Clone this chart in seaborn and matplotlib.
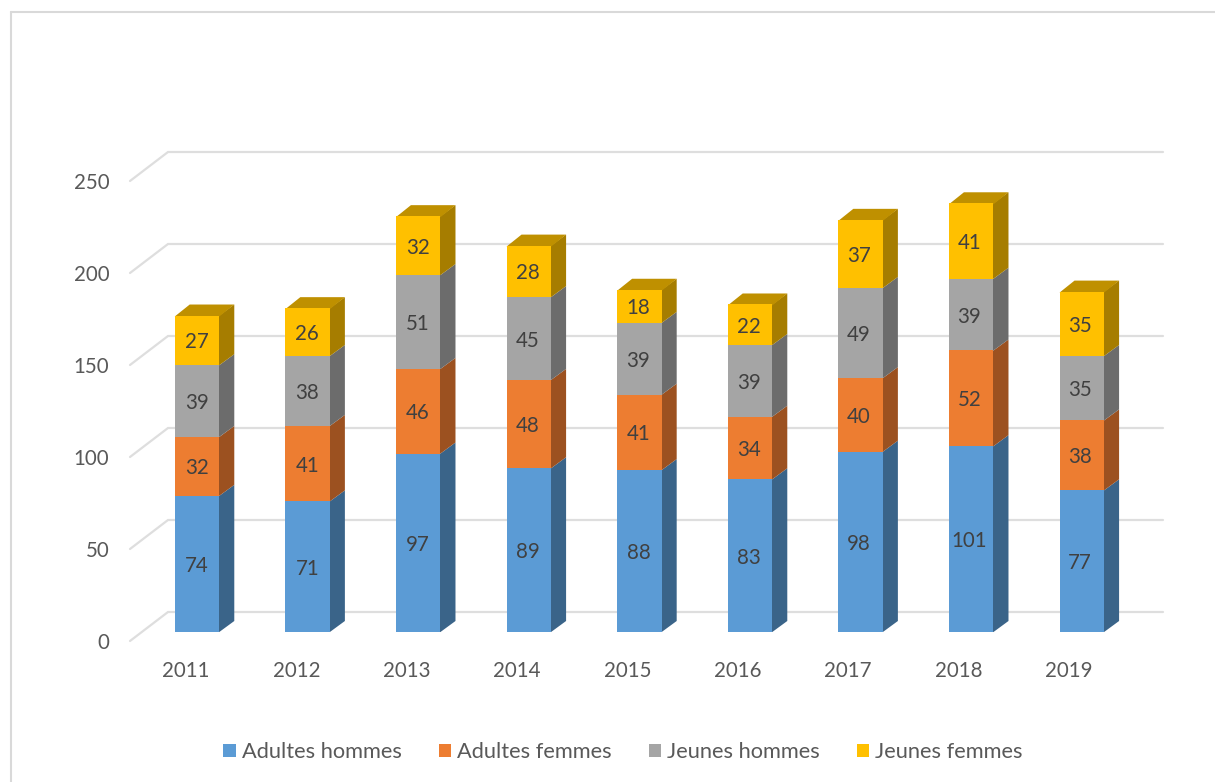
"""Effectifs par annee, barres empilees avec relief facon tableur."""

import matplotlib.pyplot as plt
import pandas as pd
import seaborn as sns
from matplotlib.lines import Line2D
from matplotlib.transforms import ScaledTranslation

YEARS = ["2011", "2012", "2013", "2014", "2015", "2016", "2017", "2018", "2019"]
ADULTES_HOMMES = [74, 71, 97, 89, 88, 83, 98, 101, 77]
ADULTES_FEMMES = [32, 41, 46, 48, 41, 34, 40, 52, 38]
JEUNES_HOMMES = [39, 38, 51, 45, 39, 39, 49, 39, 35]
JEUNES_FEMMES = [27, 26, 32, 28, 18, 22, 37, 41, 35]
Y_TICKS = [0, 50, 100, 150, 200, 250]

SERIES = ["Adultes hommes", "Adultes femmes", "Jeunes hommes", "Jeunes femmes"]
COLORS = ["#5B9BD5", "#ED7D31", "#A5A5A5", "#FFC000"]
SIDE_COLORS = ["#3A6489", "#9C5120", "#6C6C6C", "#A67D00"]
TOP_COLOR = "#BF9000"
GRID = "#DEDEDE"

W, H = 1215, 782
PX_X = 110.6  # pixels per category
PX_Y = 1.84  # pixels per unit
LABEL_DRIFT = 0.25  # text labels run a bit tighter than the bars, px per category

sns.set_theme(style="white")
plt.rcParams["font.family"] = ["Lato", "DejaVu Sans"]

df = pd.DataFrame(
    {
        "annee": YEARS,
        SERIES[0]: ADULTES_HOMMES,
        SERIES[1]: ADULTES_FEMMES,
        SERIES[2]: JEUNES_HOMMES,
        SERIES[3]: JEUNES_FEMMES,
    }
)

fig = plt.figure(figsize=(W / 100, H / 100), dpi=100, facecolor="white")
# axes box: x 130..1163 px, value 0 at y=632 px, top at y=140 px
ax = fig.add_axes([130 / W, 1 - 632 / H, (1163 - 130) / W, (632 - 140) / H])
ax.patch.set_alpha(0)

bottom = pd.Series([0] * len(df))
for name, color in zip(SERIES, COLORS):
    sns.barplot(
        data=df,
        x="annee",
        y=name,
        bottom=bottom.values,
        color=color,
        saturation=1,
        width=0.403,
        errorbar=None,
        linewidth=0,
        zorder=4,
        ax=ax,
    )
    bottom = bottom + df[name]

ax.set_xlim((130 - 197) / PX_X, (1163 - 197) / PX_X)
ax.set_ylim(0, (632 - 140) / PX_Y)

# relief: side faces and top, worked out from the bars themselves
dx, dy = 15 / PX_X, 11 / PX_Y
overlap = 1 / PX_X  # slide under the front face, avoids a light seam
n = len(YEARS)
for i, side in enumerate(SIDE_COLORS):
    for bar in ax.patches[i * n : (i + 1) * n]:
        x1 = bar.get_x() + bar.get_width()
        y0, y1 = bar.get_y(), bar.get_y() + bar.get_height()
        ax.fill(
            [x1 - overlap, x1, x1 + dx, x1 + dx, x1, x1 - overlap],
            [y0, y0, y0 + dy, y1 + dy, y1, y1],
            color=side,
            lw=0,
            zorder=3,
        )
        if i == len(SIDE_COLORS) - 1:
            x0 = bar.get_x()
            ax.fill(
                [x0, x1, x1 + dx, x0 + dx],
                [y1 - 1 / PX_Y, y1 - 1 / PX_Y, y1 + dy, y1 + dy],
                color=TOP_COLOR,
                lw=0,
                zorder=3,
            )

# back wall lines and the floor diagonals
x_left, x_right = ax.get_xlim()
wall_x = x_left + 38 / PX_X
for v in Y_TICKS:
    y_wall = v + 20 / PX_Y
    y_front = v - 9 / PX_Y
    ax.plot(
        [x_left, wall_x, x_right],
        [y_front, y_wall, y_wall],
        color=GRID,
        lw=1.6,
        zorder=1,
        clip_on=False,
        solid_joinstyle="miter",
    )

sns.despine(ax=ax, left=True, bottom=True)
ax.set_xlabel("")
ax.set_ylabel("")
ax.set_yticks(Y_TICKS)
ax.tick_params(axis="both", length=0, labelsize=14.8, labelcolor="#595959")
ax.tick_params(axis="y", pad=15)
ax.tick_params(axis="x", pad=21)

# tick labels sit off the bars, as on the front edge of the floor
y_shift = ScaledTranslation(0, -9 / 100, fig.dpi_scale_trans)
for label in ax.get_yticklabels():
    label.set_transform(label.get_transform() + y_shift)
for i, label in enumerate(ax.get_xticklabels()):
    x_shift = ScaledTranslation((-11 - LABEL_DRIFT * i) / 100, 0, fig.dpi_scale_trans)
    label.set_transform(label.get_transform() + x_shift)

for c, name in zip(ax.containers, SERIES):
    txt = ax.bar_label(c, labels=df[name].astype(str).tolist(), label_type="center",
                       fontsize=14.8, color="#404040")
    for i, t in enumerate(txt):
        t.set_zorder(6)
        t.xyann = (-LABEL_DRIFT * i * 0.72, -2 * 0.72)

handles = [plt.Rectangle((0, 0), 1, 1, color=c, lw=0) for c in COLORS]
fig.legend(
    handles,
    SERIES,
    loc="center",
    bbox_to_anchor=(623 / W, 1 - 752 / H),
    ncols=4,
    frameon=False,
    fontsize=15.7,
    labelcolor="#595959",
    handlelength=0.56,
    handleheight=0.56,
    handletextpad=0.28,
    columnspacing=1.7,
)

# chart frame, runs off the right and bottom of the image
fig.add_artist(Line2D([11 / W, 11 / W], [0, 1 - 12 / H], color="#D9D9D9", lw=1.5))
fig.add_artist(Line2D([11 / W, 1], [1 - 12 / H, 1 - 12 / H], color="#D9D9D9", lw=1.5))

fig.savefig("out.png", dpi=100)
